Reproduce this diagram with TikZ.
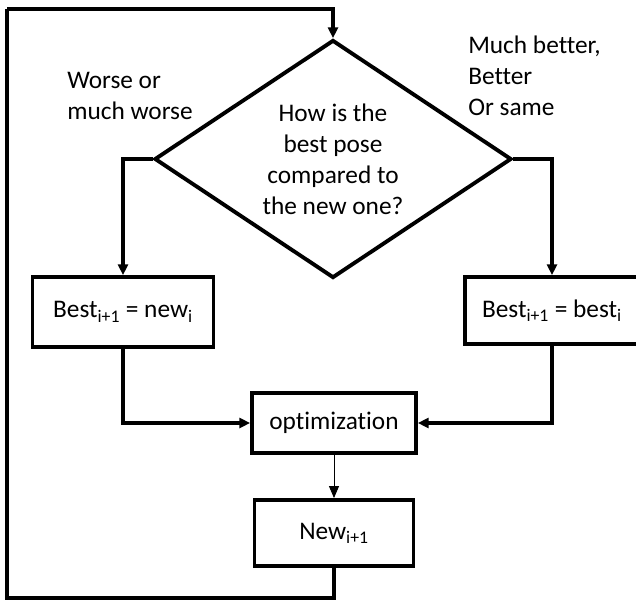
\documentclass[tikz,border=0pt]{standalone}
\usepackage{fontspec}
\setmainfont{Carlito}[Ligatures=NoCommon]
\usepackage{tikz}
\usetikzlibrary{shapes.geometric,arrows.meta}

\begin{document}
\begin{tikzpicture}[x=0.75pt,y=0.75pt,yscale=-1,xscale=1,
    font=\fontsize{19}{23.3}\selectfont,
    flowbox/.style={draw,line width=2.9pt,inner sep=0pt,align=center},
    thickarrow/.style={line width=2.6pt,-{Triangle[length=8pt,width=7.5pt]}},
    thinarrow/.style={line width=0.75pt,-{Triangle[length=9pt,width=7.5pt]}},
    thickline/.style={line width=2.6pt}]
    %set diagram to 636 x 600
    \useasboundingbox (0,0) rectangle (636,600);

    %Shape: Diamond [id:decision]
    \node [flowbox,diamond,aspect=1.5,minimum width=267.75pt,minimum height=178.5pt] (dec) at (333,159)
        {How is the\\best pose\\compared to\\the new one?};
    %Shape: Rectangle [id:bestnew]
    \node [flowbox,minimum width=135.75pt,minimum height=52.5pt] (bestnew) at (123,312)
        {Best\textsubscript{i+1} = new\textsubscript{i}};
    %Shape: Rectangle [id:bestold]
    \node [flowbox,minimum width=130.5pt,minimum height=50.25pt] (bestold) at (552,310.5)
        {Best\textsubscript{i+1} = best\textsubscript{i}};
    %Shape: Rectangle [id:optim]
    \node [flowbox,minimum width=123pt,minimum height=45pt] (optim) at (334,423) {optimization};
    %Shape: Rectangle [id:newpose]
    \node [flowbox,minimum width=119.25pt,minimum height=49.5pt] (newpose) at (334,533)
        {New\textsubscript{i+1}};

    % Text Node
    \node [anchor=west,align=left,inner sep=0.75pt] (worse) at (66,96) {Worse or\\much worse};
    % Text Node
    \node [anchor=west,align=left,inner sep=0.75pt] (better) at (467,76) {Much better,\\Better\\Or same};

    %Loop corners
    \coordinate (loopbl) at (7,598);
    \coordinate (looptl) at (7,9);

    %Connectors
    \draw [thickarrow] (dec.west) -| (bestnew.north);
    \draw [thickarrow] (dec.east) -| (bestold.north);
    \draw [thickarrow] (bestnew.south) |- (optim.west);
    \draw [thickarrow] (bestold.south) |- (optim.east);
    \draw [thinarrow] (optim.south) -- (newpose.north);
    \draw [thickline] (newpose.south) |- (loopbl) -- (looptl);
    \draw [thickarrow] (looptl) -| (dec.north);
\end{tikzpicture}
\end{document}
